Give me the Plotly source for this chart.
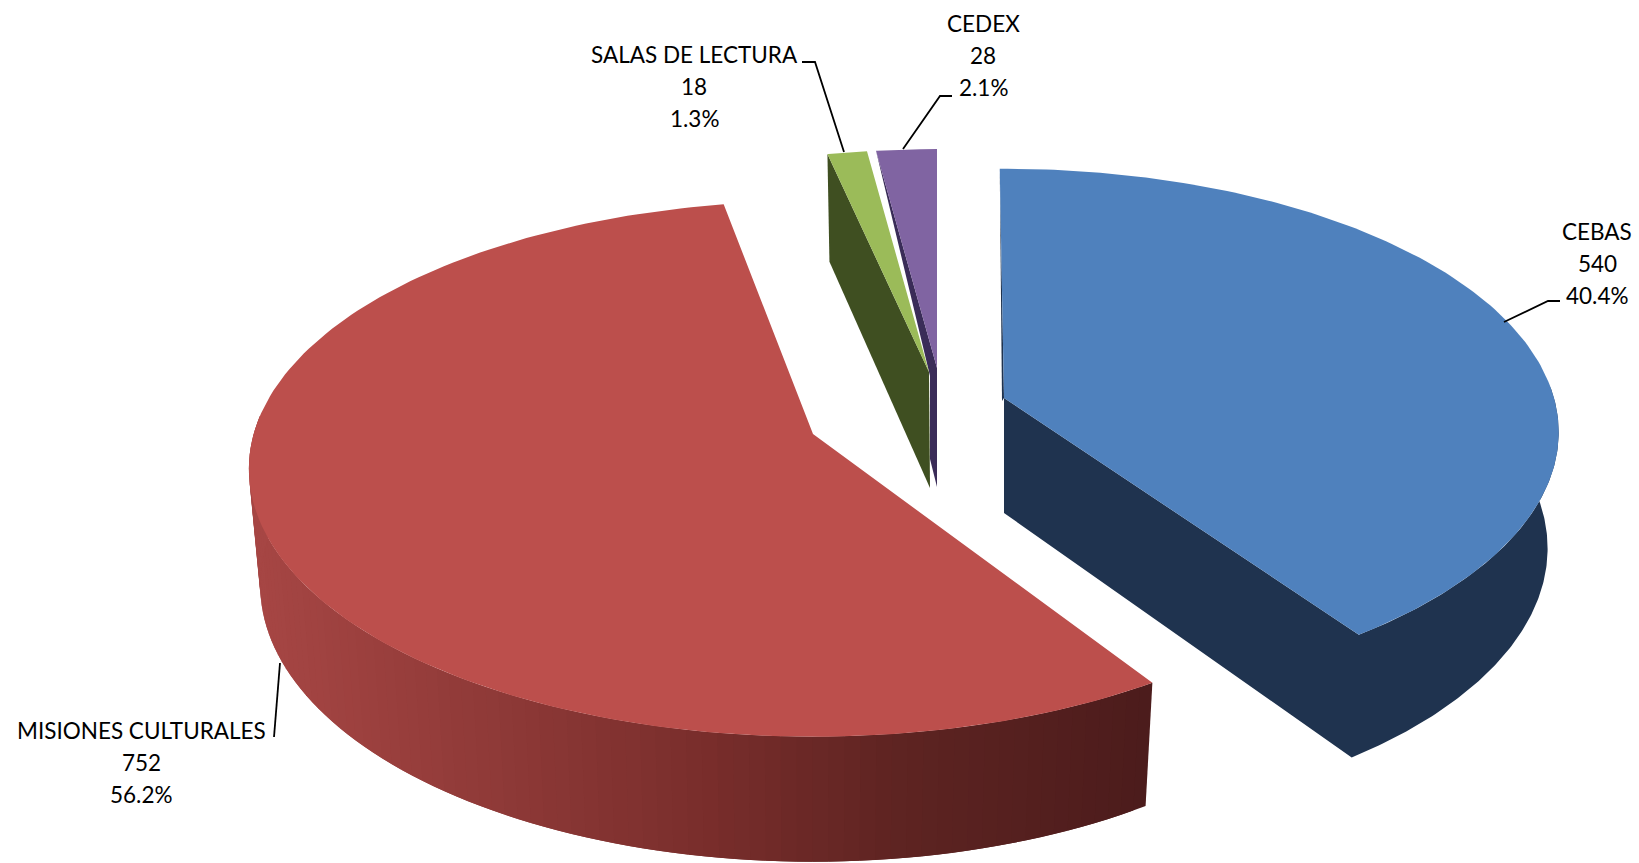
import numpy as np
import plotly.graph_objects as go

# --- data ---
categories = ["CEBAS", "MISIONES CULTURALES", "SALAS DE LECTURA", "CEDEX"]
values = [540, 752, 18, 28]
top_colors = ["#4F81BD", "#BC4F4C", "#9BBB59", "#8064A2"]
wall_colors = ["#1F334F", "#4C1C1C", "#3F4F21", "#3A2C58"]

# --- pictorial geometry of the exploded, tilted pie (pixels / degrees) ---
RX, RY, PERSP = 550.0, 259.0, 0.13
DEPTH, BX, BY = 115.0, 0.98, 1.033
apex_x = [1004, 813, 929, 937]
apex_y = [398, 434, 372, 368]
scale = [1.0, 1.017, 0.971, 0.955]
rotation = [-0.5, 2.0, 0.0, 0.0]

label_x = [1597, 141, 694, 983]
label_y = [231, 730, 54, 23]
LINE_STEP = 32
leaders = [
    ([1504, 1548, 1560], [322, 301, 301]),
    ([280, 274], [663, 737]),
    ([802, 815, 844], [62, 62, 152]),
    ([952, 940, 903], [96, 96, 149]),
]
ramp_x = [261, 490, 700, 900, 1150]
ramp_rgb = [(166, 70, 68), (143, 58, 56), (122, 46, 44), (94, 36, 34), (76, 28, 28)]

total = sum(values)
shares = [v / total for v in values]
edges = np.concatenate([[0.0], np.cumsum(shares) * 360.0])


def top_pt(i, deg):
    t = np.radians(np.asarray(deg, dtype=float) + rotation[i])
    u, v = np.sin(t), np.cos(t)
    s = 1.0 / (1.0 + PERSP * v)
    return apex_x[i] + scale[i] * RX * u * s, apex_y[i] - scale[i] * RY * v * s


def bot_pt(i, deg):
    x, y = top_pt(i, deg)
    return apex_x[i] + BX * (x - apex_x[i]), apex_y[i] + DEPTH + BY * (y - apex_y[i])


def poly(fig, xs, ys, color):
    fig.add_trace(go.Scatter(
        x=list(xs), y=list(ys), mode="lines", fill="toself", fillcolor=color,
        line=dict(width=0), hoverinfo="skip", showlegend=False))


def top_face(fig, i):
    th = np.linspace(edges[i], edges[i + 1], 160)
    x, y = top_pt(i, th)
    poly(fig, [apex_x[i], *x, apex_x[i]], [apex_y[i], *y, apex_y[i]], top_colors[i])


fig = go.Figure()

# MISIONES: outer wall with a horizontal shading ramp, bands overlap to hide seams
i = 1
band_edges = np.linspace(edges[1], 272, 90)
for a in band_edges[:-1]:
    th = np.linspace(a, band_edges[-1], 4) if a == band_edges[-2] else np.linspace(a, a + 2 * (band_edges[1] - band_edges[0]), 4)
    xt, yt = top_pt(i, th)
    xb, yb = bot_pt(i, th)
    xm = float(xt[1])
    rgb = [int(np.interp(xm, ramp_x, [c[k] for c in ramp_rgb])) for k in range(3)]
    poly(fig, [*xt, *xb[::-1], xt[0]], [*yt, *yb[::-1], yt[0]], "rgb(%d,%d,%d)" % tuple(rgb))
top_face(fig, i)

# CEDEX: narrow visible sliver of its side face
i = 3
ox, oy = top_pt(i, edges[3])
poly(fig,
     [ox, apex_x[i], apex_x[i], apex_x[i] - 7, apex_x[i] - 7, ox],
     [oy, apex_y[i], apex_y[i] + DEPTH + 4, apex_y[i] + DEPTH - 24, apex_y[i] + 8, oy],
     wall_colors[i])
top_face(fig, i)

# SALAS DE LECTURA: side face
i = 2
ox, oy = top_pt(i, edges[2])
bx, by = bot_pt(i, edges[2])
poly(fig, [ox, apex_x[i], apex_x[i] + 1, bx, ox],
     [oy, apex_y[i], apex_y[i] + DEPTH + 1, by, oy], wall_colors[i])
top_face(fig, i)

# CEBAS: cut face plus outer wall as one shape, and hairline on the far edge
i = 0
th = np.linspace(88, edges[1], 120)
xt, yt = top_pt(i, th)
xb, yb = bot_pt(i, th)
poly(fig,
     [apex_x[i], apex_x[i], *xb[::-1], *xt, apex_x[i]],
     [apex_y[i], apex_y[i] + DEPTH, *yb[::-1], *yt, apex_y[i]],
     wall_colors[i])
sx, sy = top_pt(i, edges[0])
poly(fig, [sx, apex_x[i], apex_x[i] - 2, sx], [sy, apex_y[i], apex_y[i] + 3, sy], wall_colors[i])
top_face(fig, i)

# leader lines
for lx, ly in leaders:
    fig.add_trace(go.Scatter(x=lx, y=ly, mode="lines", line=dict(color="#000000", width=1.8),
                             hoverinfo="skip", showlegend=False))

# data labels
annotations = []
for name, val, sh, x0, y0 in zip(categories, values, shares, label_x, label_y):
    for k, txt in enumerate([name, str(val), f"{sh * 100:.1f}%"]):
        annotations.append(dict(
            x=x0, y=y0 + k * LINE_STEP, xref="x", yref="y", text=txt, showarrow=False,
            xanchor="center", yanchor="middle",
            font=dict(family="Lato", size=22.5, color="#000000")))

fig.update_layout(
    width=1639, height=863, autosize=False,
    margin=dict(l=0, r=0, t=0, b=0),
    paper_bgcolor="#FFFFFF", plot_bgcolor="#FFFFFF",
    xaxis=dict(range=[0, 1639], visible=False, fixedrange=True),
    yaxis=dict(range=[863, 0], visible=False, fixedrange=True),
    annotations=annotations,
    showlegend=False,
)
fig.write_html("out.html", post_script="document.body.style.margin='0';",
               config={"displayModeBar": False})
